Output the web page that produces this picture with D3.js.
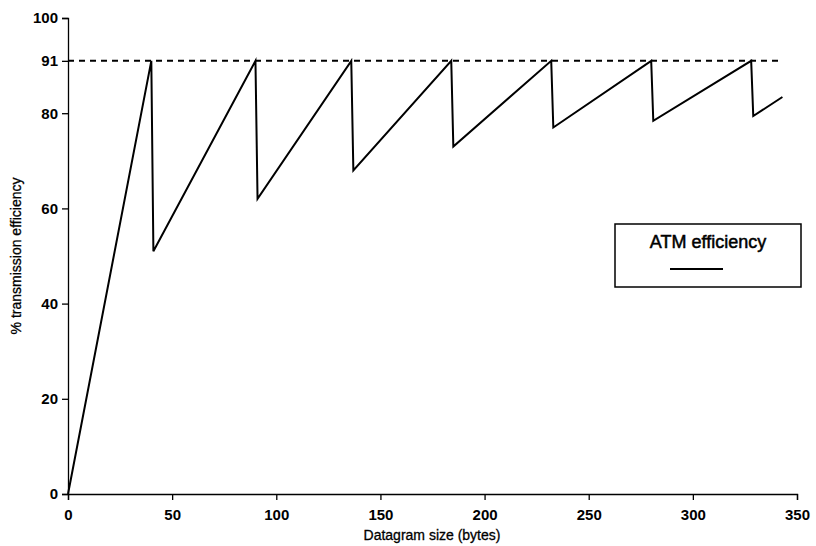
<!DOCTYPE html>
<html>
<head>
<meta charset="utf-8">
<script src="https://cdn.jsdelivr.net/npm/d3@7"></script>
<style>
  body { margin: 0; background: #fff; }
  text { font-family: "Liberation Sans", Arial, sans-serif; fill: #000; }
</style>
</head>
<body>
<div class="chart"></div>
<script>
// datagram size (bytes) vs ATM efficiency (%)
var sizes      = [0, 40, 41, 90, 91, 136, 137, 184, 185, 232, 233, 280, 281, 328, 329, 343];
var efficiency = [0, 91, 51, 91, 62, 91, 68, 91, 73, 91, 77, 91, 78.4, 91, 79.4, 83.4];
var xTicks = [0, 50, 100, 150, 200, 250, 300, 350];
var yTicks = [0, 20, 40, 60, 80, 91, 100];
var maxLine = 91;

var width = 816, height = 546;
var svg = d3.select(".chart").append("svg").attr("width", width).attr("height", height);

var x = d3.scaleLinear().domain([0, 350]).range([68, 797]);
var y = d3.scaleLinear().domain([0, 100]).range([494, 18]);

var xAxis = svg.append("g")
  .attr("transform", "translate(0," + y(0) + ")")
  .call(d3.axisBottom(x).tickValues(xTicks).tickSize(6).tickPadding(6));
var yAxis = svg.append("g")
  .attr("transform", "translate(" + x(0) + ",0)")
  .call(d3.axisLeft(y).tickValues(yTicks).tickSize(6).tickPadding(4));

[xAxis, yAxis].forEach(function(g) {
  g.select(".domain").attr("stroke", "#000").attr("stroke-width", 1.3);
  g.selectAll(".tick line").attr("stroke", "#000").attr("stroke-width", 1.3);
  g.selectAll(".tick text")
    .style("font-family", "'Liberation Sans', Arial, sans-serif")
    .style("font-size", "15px")
    .style("font-weight", "bold")
    .attr("fill", "#000");
});
xAxis.selectAll(".tick text").attr("dy", "0.95em");

// dashed line at max efficiency
svg.append("line")
  .attr("x1", x(0)).attr("x2", x(343))
  .attr("y1", y(maxLine)).attr("y2", y(maxLine))
  .attr("stroke", "#000").attr("stroke-width", 2)
  .attr("stroke-dasharray", "6,5");

var pts = sizes.map(function(s, i) { return [s, efficiency[i]]; });
var line = d3.line()
  .x(function(d) { return x(d[0]); })
  .y(function(d) { return y(d[1]); });

svg.append("path")
  .datum(pts)
  .attr("d", line)
  .attr("fill", "none")
  .attr("stroke", "#000")
  .attr("stroke-width", 2)
  .attr("stroke-linejoin", "miter");

// axis titles
svg.append("text")
  .attr("x", 432).attr("y", 540)
  .attr("text-anchor", "middle")
  .style("font-size", "14px")
  .style("stroke", "#000").style("stroke-width", 0.3)
  .text("Datagram size (bytes)");

svg.append("text")
  .attr("transform", "translate(21,256) rotate(-90)")
  .attr("text-anchor", "middle")
  .style("font-size", "14px")
  .style("stroke", "#000").style("stroke-width", 0.3)
  .text("% transmission efficiency");

// legend
var legend = svg.append("g");
legend.append("rect")
  .attr("x", 615).attr("y", 224).attr("width", 186).attr("height", 63)
  .attr("fill", "none").attr("stroke", "#000").attr("stroke-width", 1.5);
legend.append("text")
  .attr("x", 708).attr("y", 248)
  .attr("text-anchor", "middle")
  .style("font-size", "18px")
  .style("stroke", "#000").style("stroke-width", 0.5)
  .text("ATM efficiency");
legend.append("line")
  .attr("x1", 670).attr("x2", 723).attr("y1", 269).attr("y2", 269)
  .attr("stroke", "#000").attr("stroke-width", 2);
</script>
</body>
</html>
